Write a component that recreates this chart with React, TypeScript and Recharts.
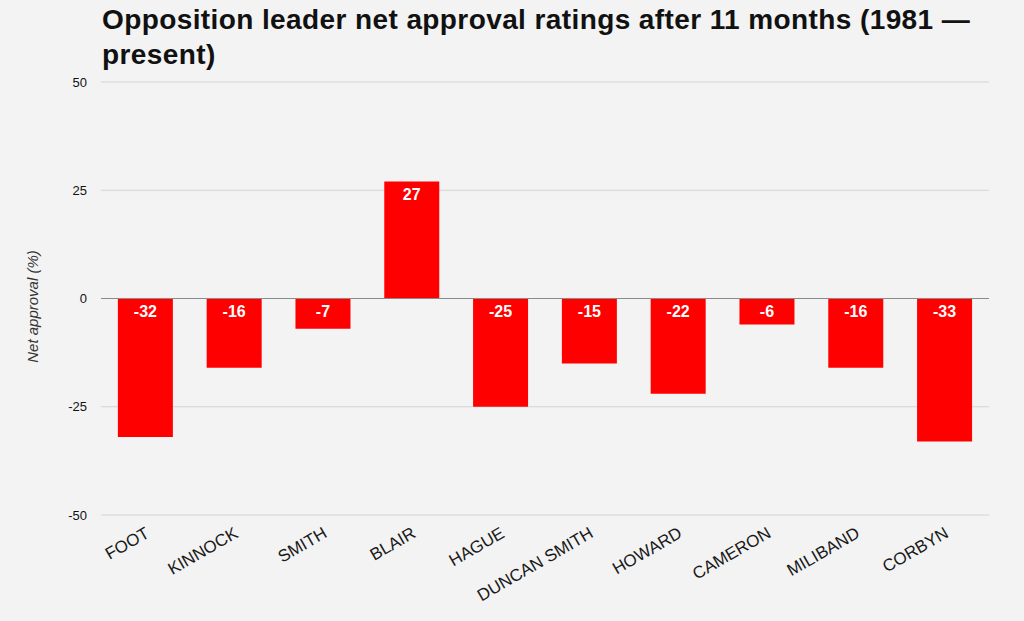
import { BarChart, Bar, XAxis, YAxis, CartesianGrid, ReferenceLine, LabelList, Cell } from "recharts";

const leaders: string[] = [
  "FOOT",
  "KINNOCK",
  "SMITH",
  "BLAIR",
  "HAGUE",
  "DUNCAN SMITH",
  "HOWARD",
  "CAMERON",
  "MILIBAND",
  "CORBYN",
];
const approval: number[] = [-32, -16, -7, 27, -25, -15, -22, -6, -16, -33];
const yTicks: number[] = [-50, -25, 0, 25, 50];

const data = leaders.map((name, i) => ({ name, value: approval[i] }));

const FONT = "'Liberation Sans', Arial, sans-serif";

const XTick = (props: any) => {
  const { x, y, payload } = props;
  return (
    <g transform={`translate(${x - 1},${y + 3})`}>
      <text
        x={0}
        y={0}
        dy="0.71em"
        textAnchor="end"
        transform="rotate(-30)"
        fontFamily={FONT}
        fontSize={17}
        fill="#1a1a1a"
      >
        {payload.value}
      </text>
    </g>
  );
};

const ValueLabel = (props: any) => {
  const { x, y, width, height, value } = props;
  const top = Math.min(y, y + height);
  return (
    <text
      x={x + width / 2}
      y={top + 18}
      textAnchor="middle"
      fontFamily={FONT}
      fontSize={16}
      fontWeight="bold"
      fill="#fff"
    >
      {value}
    </text>
  );
};

const YLabel = (props: any) => {
  const { viewBox } = props;
  const cx = 32;
  const cy = viewBox.y + viewBox.height / 2 + 8;
  return (
    <text
      x={cx}
      y={cy}
      textAnchor="middle"
      dominantBaseline="central"
      transform={`rotate(-90, ${cx}, ${cy})`}
      fontFamily={FONT}
      fontSize={15}
      fontStyle="italic"
      fill="#333"
    >
      Net approval (%)
    </text>
  );
};

export default function App() {
  return (
    <div
      style={{
        position: "fixed",
        left: 0,
        top: 0,
        width: 1024,
        height: 621,
        background: "#f3f3f3",
      }}
    >
      <div
        style={{
          position: "absolute",
          left: 102,
          top: 2,
          fontFamily: FONT,
          fontWeight: "bold",
          fontSize: 28,
          lineHeight: "35px",
          letterSpacing: "0.4px",
          color: "#111",
        }}
      >
        <div>Opposition leader net approval ratings after 11 months (1981 —</div>
        <div>present)</div>
      </div>
      <BarChart
        width={1024}
        height={621}
        data={data}
        margin={{ top: 82, right: 35, bottom: 6, left: 0 }}
        barCategoryGap="19%"
        style={{ position: "absolute", left: 0, top: 0 }}
      >
        <CartesianGrid vertical={false} stroke="#d4d4d4" />
        <XAxis
          dataKey="name"
          axisLine={false}
          tickLine={false}
          interval={0}
          height={100}
          tick={<XTick />}
        />
        <YAxis
          width={101}
          domain={[-50, 50]}
          ticks={yTicks}
          axisLine={false}
          tickLine={false}
          tickMargin={8}
          tick={{ fontFamily: FONT, fontSize: 13, fill: "#111" }}
          label={<YLabel />}
        />
        <ReferenceLine y={0} stroke="#8a8a8a" />
        <Bar dataKey="value" fill="#ff0000" isAnimationActive={false}>
          {data.map((_, i) => (
            <Cell key={`c-${i}`} fill="#ff0000" />
          ))}
          <LabelList dataKey="value" content={<ValueLabel />} />
        </Bar>
      </BarChart>
    </div>
  );
}
